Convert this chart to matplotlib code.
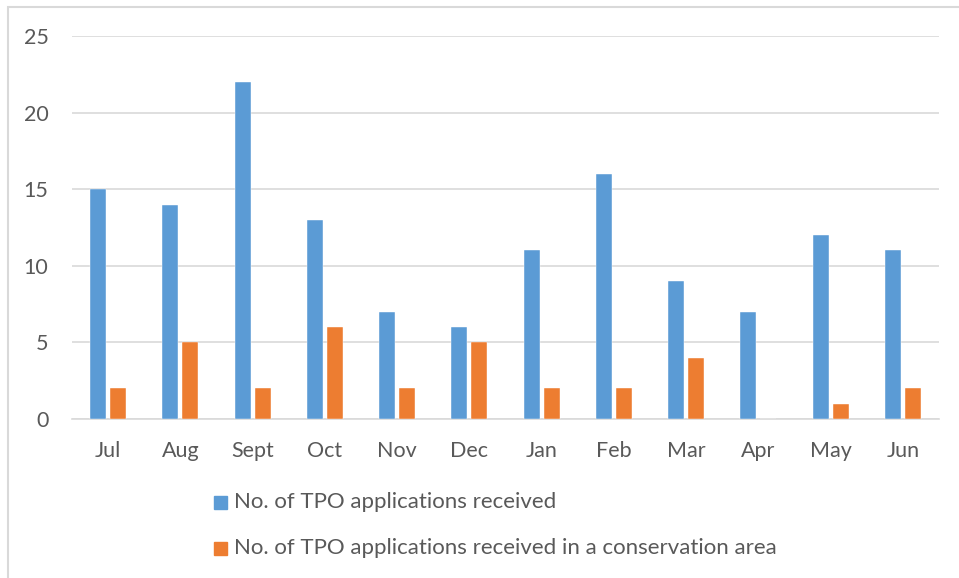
import matplotlib
matplotlib.use("Agg")
import matplotlib.pyplot as plt
import numpy as np
from matplotlib.patches import Rectangle

months = ["Jul", "Aug", "Sept", "Oct", "Nov", "Dec", "Jan", "Feb", "Mar", "Apr", "May", "Jun"]
received = [15, 14, 22, 13, 7, 6, 11, 16, 9, 7, 12, 11]
conservation = [2, 5, 2, 6, 2, 5, 2, 2, 4, 0, 1, 2]
series_names = ["No. of TPO applications received",
                "No. of TPO applications received in a conservation area"]

plt.rcParams['font.family'] = ['Lato', 'DejaVu Sans']
W, H = 959, 578
fig = plt.figure(figsize=(W/100, H/100), dpi=100)
ax = fig.add_axes([72/W, 1-419/H, (939-72)/W, (419-36)/H])

x = np.arange(len(months))
bw = 0.22
off = 0.138
blue = "#5B9BD5"
orange = "#ED7D31"
ax.bar(x - off, received, bw, color=blue, edgecolor="white", linewidth=0.3, zorder=3)
ax.bar(x + off, conservation, bw, color=orange, edgecolor="white", linewidth=0.3, zorder=3)

ax.set_xlim(-0.5, len(months) - 0.5)
ax.set_ylim(0, 25)
ax.set_yticks(range(0, 26, 5))
ax.set_xticks(x)
ax.set_xticklabels(months)
ax.yaxis.grid(True, color="#D9D9D9", linewidth=1.2, zorder=0)
for s in ["top", "right", "left"]:
    ax.spines[s].set_visible(False)
ax.spines["bottom"].set_color("#D9D9D9")
ax.spines["bottom"].set_linewidth(1.2)
ax.tick_params(axis="both", length=0, colors="#595959", labelsize=15.5)
ax.tick_params(axis="x", pad=16)
ax.tick_params(axis="y", pad=17)

# legend (manual, stacked)
fig.patches.append(Rectangle((214/W, 1-509/H), 13/W, 13/H, transform=fig.transFigure,
                             color=blue, figure=fig))
fig.text(234/W, 1-502/H, series_names[0], fontsize=16, color="#595959", va="center")
fig.patches.append(Rectangle((214/W, 1-555/H), 13/W, 13/H, transform=fig.transFigure,
                             color=orange, figure=fig))
fig.text(234/W, 1-548/H, series_names[1], fontsize=16, color="#595959", va="center")

# outer border
fig.patches.append(Rectangle((8/W, -0.01), 1.0, 1 - 7/H + 0.01, transform=fig.transFigure,
                             fill=False, edgecolor="#D9D9D9", linewidth=1.5, figure=fig))

fig.savefig("out.png", dpi=100)
